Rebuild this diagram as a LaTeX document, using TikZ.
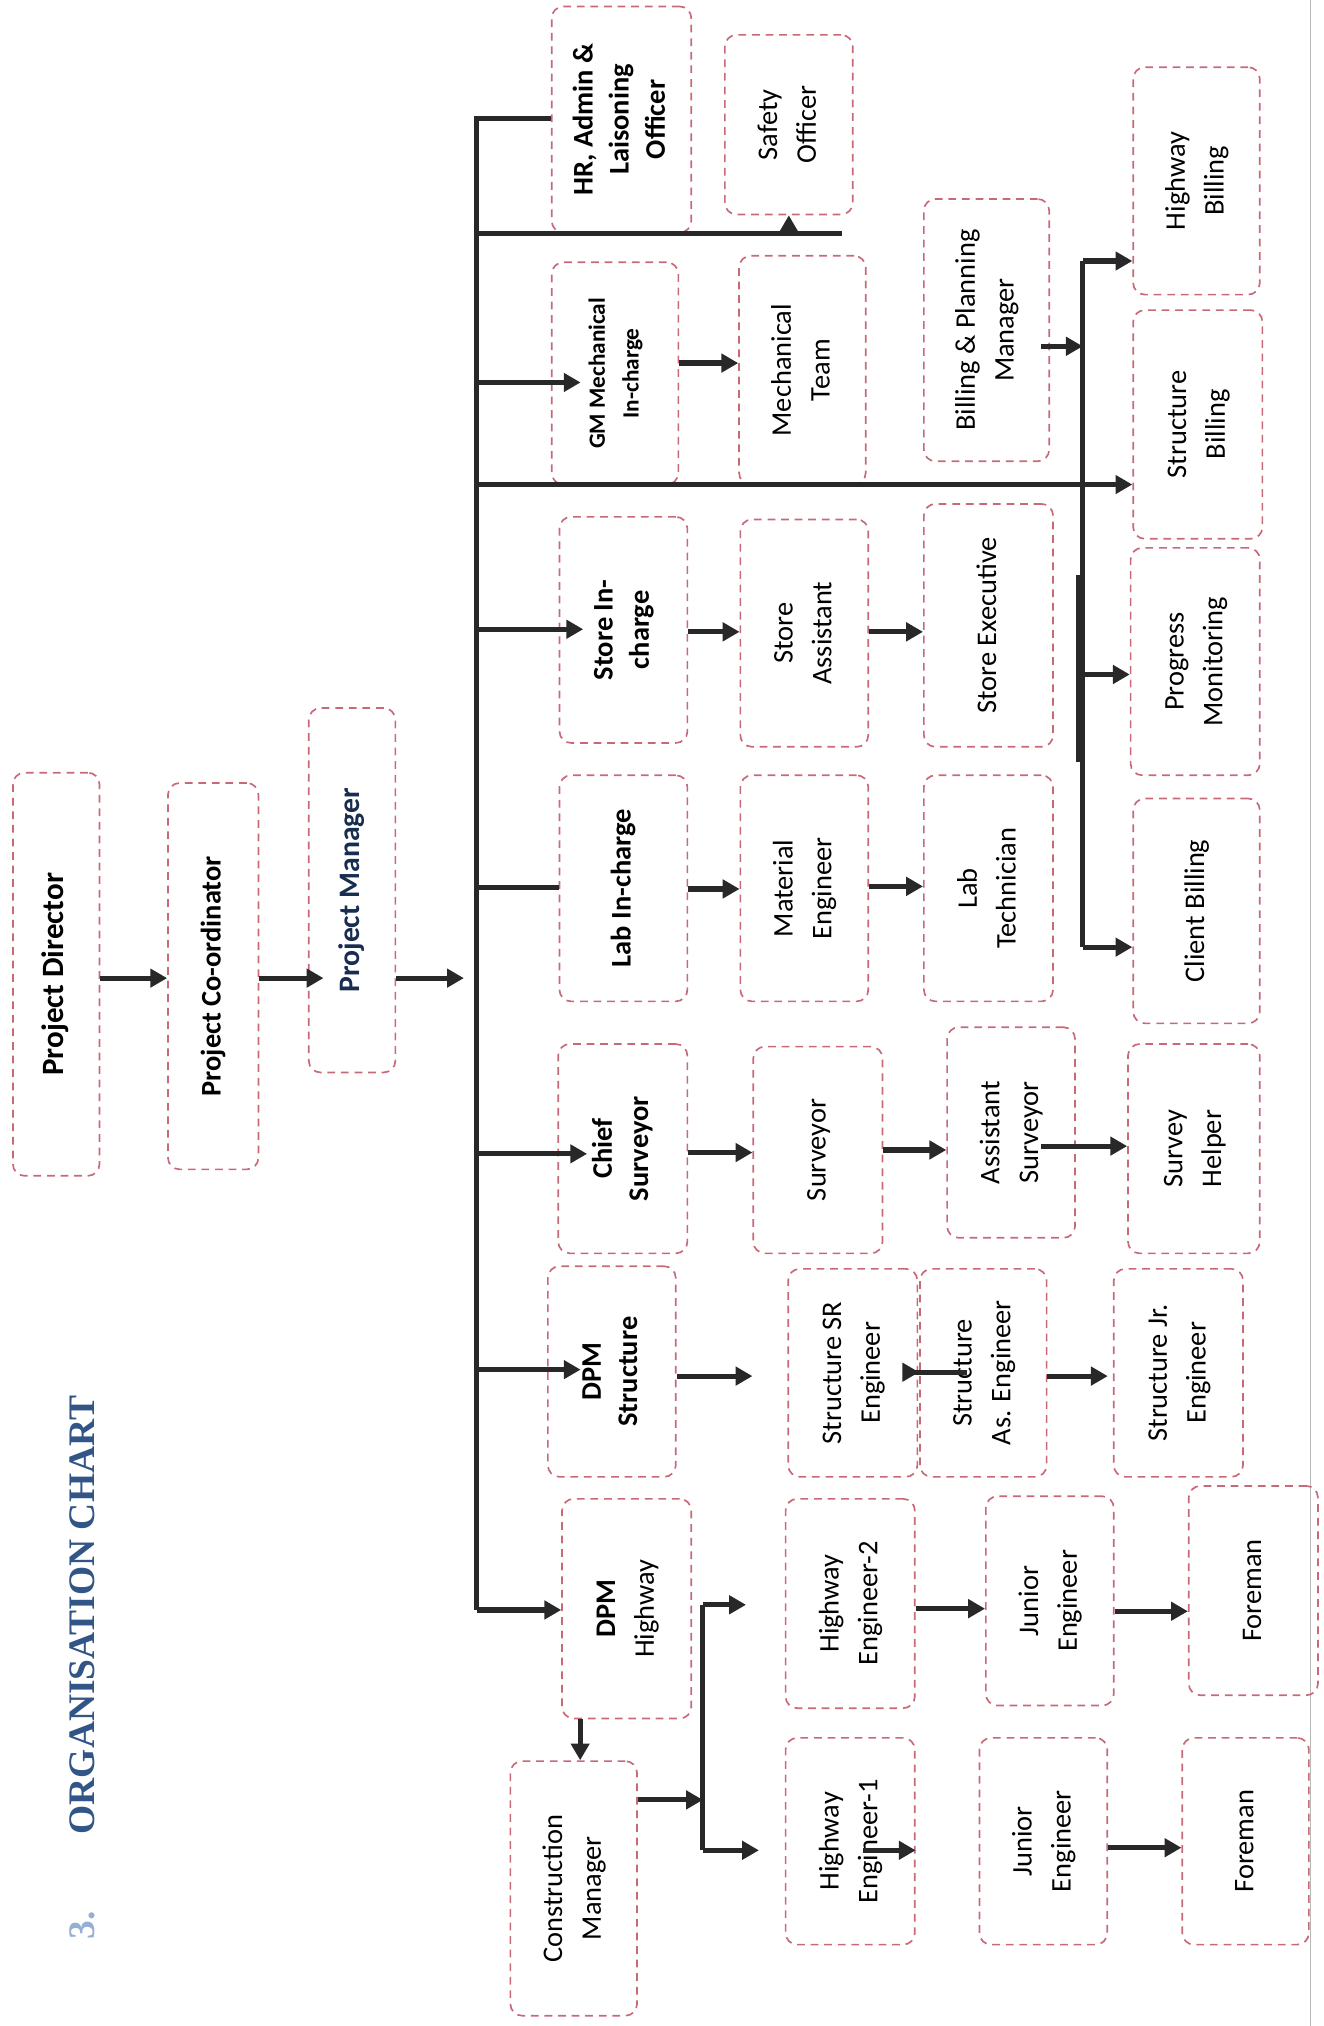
\documentclass[tikz,border=0pt]{standalone}
\usepackage{fontspec}
\usepackage{graphicx}
\setmainfont{Carlito}
\newfontfamily\titlefont{Liberation Serif}
\usetikzlibrary{arrows.meta}
\definecolor{boxc}{RGB}{200,105,120}
\definecolor{arrc}{RGB}{40,40,40}
\definecolor{titleblue}{RGB}{50,85,135}
\definecolor{numblue}{RGB}{150,175,210}
\definecolor{pmnavy}{RGB}{25,45,80}
\newcommand{\rt}[1]{\rotatebox{90}{\begin{tabular}{@{}c@{}}#1\end{tabular}}}
\begin{document}
\begin{tikzpicture}[x=1pt,y=-1pt,
  box/.style={draw=boxc, dash pattern=on 6pt off 4.5pt, line width=1.3pt, rounded corners=9pt, inner sep=0pt},
  reg/.style={font=\fontsize{22}{30}\selectfont},
  bld/.style={font=\bfseries\fontsize{22}{28}\selectfont},
  arr/.style={draw=arrc, line width=4pt, -{Triangle[length=13pt,width=14pt]}},
  bar/.style={draw=arrc, line width=4pt},
]
\useasboundingbox (0,0) rectangle (1024,1568);
\draw[gray!55, line width=1pt] (1014,0) -- (1014,1568);

% title
\node[font=\titlefont\bfseries\fontsize{29}{30}\selectfont, text=titleblue, rotate=90] (title) at (64,1250) {ORGANISATION CHART};
\node[font=\titlefont\bfseries\fontsize{29}{30}\selectfont, text=numblue, rotate=90] (num) at (64,1490) {3.};

% top level
\node[box, minimum width=67pt, minimum height=312pt, font=\bfseries\fontsize{24}{29}\selectfont] (pd) at (43.5,754) {\rt{Project Director}};
\node[box, minimum width=70pt, minimum height=299pt, font=\bfseries\fontsize{22}{29}\selectfont] (pc) at (165,755.5) {\rt{Project Co-ordinator}};
\node[box, minimum width=67pt, minimum height=282pt, font=\bfseries\fontsize{23}{29}\selectfont, text=pmnavy] (pm) at (272.5,689) {\rt{Project Manager}};

% column 1
\node[box, bld, minimum width=108pt, minimum height=175pt] (hr) at (481,92.5) {\rt{HR, Admin \&\\Laisoning\\Officer}};
\node[box, minimum width=98pt, minimum height=172pt, font=\bfseries\fontsize{18}{26}\selectfont] (gm) at (476,289) {\rt{GM Mechanical\\In-charge}};
\node[box, bld, minimum width=99pt, minimum height=175pt] (si) at (482.5,487.5) {\rt{Store In-\\charge}};
\node[box, bld, minimum width=99pt, minimum height=175pt] (li) at (482.5,687.5) {\rt{Lab In-charge}};
\node[box, bld, minimum width=100pt, minimum height=162pt] (cs) at (482,889) {\rt{Chief\\Surveyor}};
\node[box, bld, minimum width=99pt, minimum height=163pt] (ds) at (473.5,1061.5) {\rt{DPM\\Structure}};
\node[box, reg, minimum width=100pt, minimum height=170pt] (dh) at (485,1245) {\rt{\textbf{DPM}\\Highway}};
\node[box, reg, minimum width=98pt, minimum height=197pt] (cm) at (444,1461.5) {\rt{Construction\\Manager}};

% column 2
\node[box, reg, minimum width=99pt, minimum height=139pt] (so) at (610.5,96.5) {\rt{Safety\\Officer}};
\node[box, reg, minimum width=98pt, minimum height=177pt] (mt) at (621,286.5) {\rt{Mechanical\\Team}};
\node[box, reg, minimum width=99pt, minimum height=176pt] (sa) at (622.5,490) {\rt{Store\\Assistant}};
\node[box, reg, minimum width=99pt, minimum height=175pt] (me) at (622.5,687.5) {\rt{Material\\Engineer}};
\node[box, reg, minimum width=100pt, minimum height=160pt] (sv) at (633,890) {\rt{Surveyor}};
\node[box, reg, minimum width=100pt, minimum height=161pt] (ssr) at (660,1062.5) {\rt{Structure SR\\Engineer}};
\node[box, reg, minimum width=100pt, minimum height=162pt] (he2) at (658,1241) {\rt{Highway\\Engineer-2}};
\node[box, reg, minimum width=100pt, minimum height=160pt] (he1) at (658,1425) {\rt{Highway\\Engineer-1}};

% column 3
\node[box, reg, minimum width=97pt, minimum height=203pt] (bpm) at (763.5,255.5) {\rt{Billing \& Planning\\Manager}};
\node[box, reg, minimum width=100pt, minimum height=188pt] (se) at (765,484) {\rt{Store Executive}};
\node[box, reg, minimum width=100pt, minimum height=175pt] (lt) at (765,687.5) {\rt{Lab\\Technician}};
\node[box, reg, minimum width=99pt, minimum height=163pt] (as) at (782.5,876.5) {\rt{Assistant\\Surveyor}};
\node[box, reg, minimum width=98pt, minimum height=161pt] (sas) at (761,1062.5) {\rt{Structure\\As. Engineer}};
\node[box, reg, minimum width=99pt, minimum height=162pt] (je2) at (812.5,1239) {\rt{Junior\\Engineer}};
\node[box, reg, minimum width=99pt, minimum height=160pt] (je1) at (807.5,1425) {\rt{Junior\\Engineer}};

% column 4
\node[box, reg, minimum width=98pt, minimum height=176pt] (hb) at (926,140) {\rt{Highway\\Billing}};
\node[box, reg, minimum width=100pt, minimum height=177pt] (sb) at (927,328.5) {\rt{Structure\\Billing}};
\node[box, reg, minimum width=100pt, minimum height=176pt] (pmn) at (925,512) {\rt{Progress\\Monitoring}};
\node[box, reg, minimum width=98pt, minimum height=174pt] (cb) at (926,705) {\rt{Client Billing}};
\node[box, reg, minimum width=102pt, minimum height=162pt] (sh) at (924,889) {\rt{Survey\\Helper}};
\node[box, reg, minimum width=100pt, minimum height=161pt] (sjr) at (912,1062.5) {\rt{Structure Jr.\\Engineer}};
\node[box, reg, minimum width=100pt, minimum height=162pt] (fm2) at (970,1231) {\rt{Foreman}};
\node[box, reg, minimum width=98pt, minimum height=160pt] (fm1) at (964,1425) {\rt{Foreman}};

% main bus
\coordinate (bt) at (369,92);
\coordinate (bb) at (369,1246);
\draw[bar] ([yshift=2pt]bt) -- (bb);
\draw[arr] (pd.east |- 0,757) -- (pc.west |- 0,757);
\draw[arr, shorten >=-12pt] (pc.east |- 0,757) -- (pm.west |- 0,757);
\draw[arr, shorten >=10pt] (pm.east |- 0,757) -- (bt |- 0,757);

% branches from bus
\draw[bar] (bt) -- (bt -| hr.west);
\coordinate (s1) at (369,181);
\coordinate (s2) at (652,181);
\draw[bar] (s1) -- (s2);
\draw[arr] (s1 -| so.south) -- (so.south);
\coordinate (bgm) at (369,296);
\draw[arr, shorten >=-23pt] (bgm) -- (bgm -| gm.west);
\coordinate (bsb) at (371,375);
\draw[arr] (bsb) -- (bsb -| sb.west);
\coordinate (bsi) at (369,487);
\draw[arr, shorten >=-19pt] (bsi) -- (bsi -| si.west);
\coordinate (bli) at (369,687);
\draw[bar] (bli) -- (bli -| li.west);
\coordinate (bcs) at (369,893);
\draw[arr, shorten >=-23pt] (bcs) -- (bcs -| cs.west);
\coordinate (bds) at (369,1060);
\draw[arr, shorten >=-26pt] (bds) -- (bds -| ds.west);
\draw[arr] (bb) -- (bb -| dh.west);

% chains
\draw[arr] (gm.east |- 0,281) -- (mt.west |- 0,281);
\draw[arr] (si.east |- 0,489) -- (sa.west |- 0,489);
\draw[arr] (sa.east |- 0,489) -- (se.west |- 0,489);
\draw[arr] (li.east |- 0,688) -- (me.west |- 0,688);
\draw[arr] (me.east |- 0,686) -- (lt.west |- 0,686);
\draw[arr] (cs.east |- 0,892) -- (sv.west |- 0,892);
\draw[arr] (sv.east |- 0,890) -- (as.west |- 0,890);
\draw[arr, shorten <=-27pt] (as.east |- 0,887) -- (sh.west |- 0,887);
\draw[arr] (ds.east |- 0,1065) -- ([xshift=-27pt]ssr.west |- 0,1065);
\draw[arr, shorten <=-38pt] (ssr.east |- 0,1062) -- (sas.west |- 0,1062);
\draw[arr, shorten >=4pt] (sas.east |- 0,1065) -- (sjr.west |- 0,1065);

% billing
\coordinate (b1) at (838,202);
\coordinate (b2) at (838,733);
\draw[bar] (b1) -- (b2);
\draw[draw=arrc, line width=7pt] (836,445) -- (836,590);
\draw[arr] (b1) -- (b1 -| hb.west);
\draw[arr, shorten <=-7pt] (bpm.east |- 0,268) -- (b1 |- 0,268);
\draw[arr] (b1 |- 0,522) -- (pmn.west |- 0,522);
\draw[arr] (b2) -- (b2 -| cb.west);

% highway group
\draw[arr] (dh.south -| 449,0) -- (cm.north -| 449,0);
\coordinate (j1) at (544,1242);
\coordinate (j2) at (544,1432);
\draw[bar] (j1) -- (j2);
\draw[arr] (cm.east |- 0,1393) -- (j1 |- 0,1393);
\draw[arr, shorten >=30pt] (j1) -- (j1 -| he2.west);
\draw[arr, shorten >=20pt] (j2) -- (j2 -| he1.west);
\draw[arr] (he2.east |- 0,1245) -- (je2.west |- 0,1245);
\draw[arr] (je2.east |- 0,1247) -- (fm2.west |- 0,1247);
\coordinate (h1a) at (668,1432);
\draw[arr] (h1a) -- (h1a -| he1.east);
\draw[arr] (je1.east |- 0,1430) -- (fm1.west |- 0,1430);
\end{tikzpicture}
\end{document}
